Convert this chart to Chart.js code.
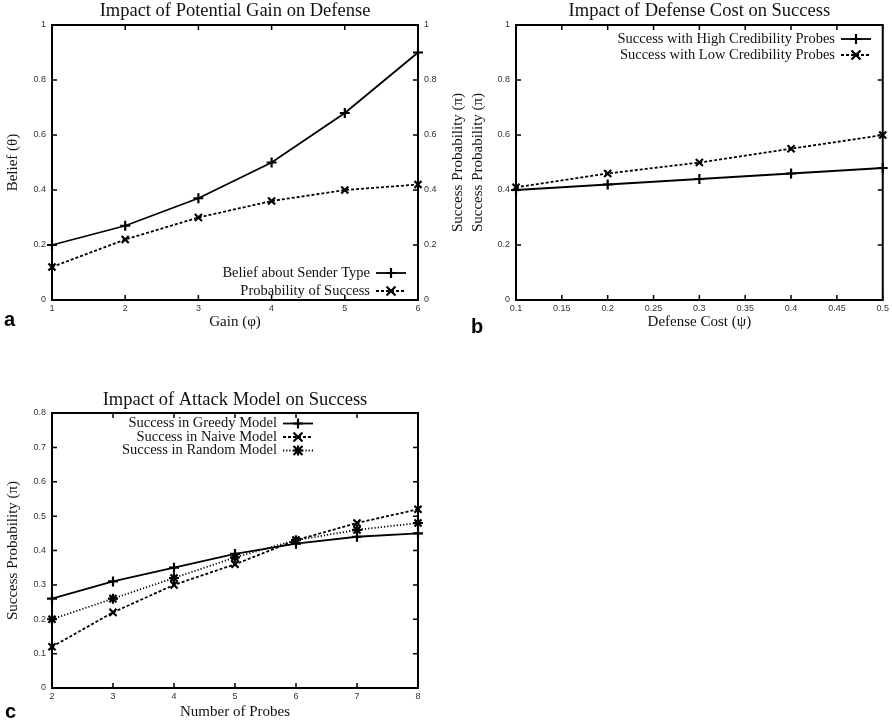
<!DOCTYPE html>
<html>
<head>
<meta charset="utf-8">
<script src="https://cdn.jsdelivr.net/npm/chart.js@4.4.1/dist/chart.umd.min.js"></script>
<style>
  html, body { margin: 0; padding: 0; background: #fff; }
  body { width: 892px; height: 723px; position: relative; overflow: hidden; }
  canvas { position: absolute; }
  .panel { position: absolute; font: bold 20px 'Liberation Sans', Arial, sans-serif; line-height: 20px; color: #000; }
</style>
</head>
<body>
<canvas id="chartA" width="470" height="335" style="left:0;top:0;width:470px;height:335px"></canvas>
<canvas id="chartB" width="452" height="335" style="left:440px;top:0;width:452px;height:335px"></canvas>
<canvas id="chartC" width="430" height="343" style="left:0;top:380px;width:430px;height:343px"></canvas>
<div class="panel" style="left:4px;top:309px">a</div>
<div class="panel" style="left:471px;top:316px">b</div>
<div class="panel" style="left:5px;top:701px">c</div>
<script>
// Panel a: potential gain vs defense
const gainX = [1, 2, 3, 4, 5, 6];
const beliefSender = [0.20, 0.27, 0.37, 0.50, 0.68, 0.90];
const probSuccess = [0.12, 0.22, 0.30, 0.36, 0.40, 0.42];

// Panel b: defense cost vs success
const costX = [0.1, 0.2, 0.3, 0.4, 0.5];
const highCred = [0.40, 0.42, 0.44, 0.46, 0.48];
const lowCred = [0.41, 0.46, 0.50, 0.55, 0.60];

// Panel c: attack model vs success
const probesX = [2, 3, 4, 5, 6, 7, 8];
const greedy = [0.26, 0.31, 0.35, 0.39, 0.42, 0.44, 0.45];
const naive = [0.12, 0.22, 0.30, 0.36, 0.43, 0.48, 0.52];
const randomModel = [0.20, 0.26, 0.32, 0.38, 0.43, 0.46, 0.48];

// Tick labels
const unitTicks = [0, 0.2, 0.4, 0.6, 0.8, 1];
const costTicks = [0.1, 0.15, 0.2, 0.25, 0.3, 0.35, 0.4, 0.45, 0.5];
const probeYTicks = [0, 0.1, 0.2, 0.3, 0.4, 0.5, 0.6, 0.7, 0.8];

const SERIF = "'Liberation Serif', 'Times New Roman', serif";
const SANS = "'Liberation Sans', Arial, sans-serif";

const pts = (xs, ys) => xs.map((x, i) => ({ x, y: ys[i] }));
const fmt = v => String(+Number(v).toFixed(2));
const fixTicks = arr => s => { s.ticks = arr.map(v => ({ value: v })); };

function drawMarker(ctx, style, x, y, r) {
  ctx.beginPath();
  if (style === 'cross' || style === 'star') {
    ctx.moveTo(x - r, y); ctx.lineTo(x + r, y);
    ctx.moveTo(x, y - r); ctx.lineTo(x, y + r);
  }
  if (style === 'crossRot' || style === 'star') {
    const d = r * 0.9;
    ctx.moveTo(x - d, y - d); ctx.lineTo(x + d, y + d);
    ctx.moveTo(x - d, y + d); ctx.lineTo(x + d, y - d);
  }
  ctx.stroke();
}

// gnuplot style box: inward ticks on all sides, key with samples, extra y2 label
const gnuplotFrame = {
  id: 'gnuplotFrame',
  afterDatasetsDraw(chart, args, opts) {
    const { ctx, chartArea: a, scales } = chart;
    const tl = 5;
    ctx.save();
    ctx.strokeStyle = '#000';
    ctx.lineWidth = 1.5;
    ctx.beginPath();
    scales.x.ticks.forEach(t => {
      const px = scales.x.getPixelForValue(t.value);
      ctx.moveTo(px, a.bottom); ctx.lineTo(px, a.bottom - tl);
      ctx.moveTo(px, a.top); ctx.lineTo(px, a.top + tl);
    });
    scales.y.ticks.forEach(t => {
      const py = scales.y.getPixelForValue(t.value);
      ctx.moveTo(a.left, py); ctx.lineTo(a.left + tl, py);
      ctx.moveTo(a.right, py); ctx.lineTo(a.right - tl, py);
    });
    ctx.stroke();
    ctx.lineWidth = 2;
    ctx.strokeRect(a.left, a.top, a.right - a.left, a.bottom - a.top);

    // key
    const key = opts.key;
    if (key) {
      ctx.font = '14.5px ' + SERIF;
      ctx.fillStyle = '#111';
      ctx.textAlign = 'right';
      ctx.textBaseline = 'middle';
      chart.data.datasets.forEach((ds, i) => {
        const y = key.y + i * key.rowH;
        ctx.fillText(ds.label, key.x, y);
        ctx.setLineDash(ds.borderDash || []);
        ctx.lineWidth = ds.borderWidth;
        ctx.beginPath();
        ctx.moveTo(key.x + 6, y); ctx.lineTo(key.x + 36, y);
        ctx.stroke();
        ctx.setLineDash([]);
        ctx.lineWidth = ds.pointBorderWidth;
        drawMarker(ctx, ds.pointStyle, key.x + 21, y, ds.pointRadius);
      });
    }

    if (opts.y2Title) {
      ctx.font = '15px ' + SERIF;
      ctx.fillStyle = '#111';
      ctx.textAlign = 'center';
      ctx.textBaseline = 'middle';
      ctx.translate(a.right + 40, (a.top + a.bottom) / 2);
      ctx.rotate(-Math.PI / 2);
      ctx.fillText(opts.y2Title, 0, 0);
    }
    ctx.restore();
  },
};

function line(label, xs, ys, dash, style, extra) {
  return Object.assign({
    label,
    data: pts(xs, ys),
    borderColor: '#000',
    backgroundColor: 'transparent',
    borderWidth: 1.8,
    borderDash: dash,
    pointStyle: style,
    pointRadius: 5,
    pointBorderWidth: 2.2,
    pointBorderColor: '#000',
    pointBackgroundColor: 'transparent',
    tension: 0,
    clip: false,
  }, extra || {});
}

function tickFont() { return { family: SANS, size: 9 }; }

function xAxis(min, max, ticksArr, title, pb) {
  return {
    type: 'linear', position: 'bottom', min, max,
    afterBuildTicks: fixTicks(ticksArr),
    afterFit: s => { s.height = 35; },
    grid: { display: false, drawTicks: false },
    border: { display: false },
    ticks: { font: tickFont(), color: '#333', padding: 3, callback: fmt, maxRotation: 0, autoSkip: false },
    title: { display: true, text: title, font: { family: SERIF, size: 15 }, color: '#111', padding: { top: 0, bottom: pb } },
  };
}

function yAxis(min, max, ticksArr, title, width, pt) {
  return {
    type: 'linear', position: 'left', min, max,
    afterBuildTicks: fixTicks(ticksArr),
    afterFit: s => { s.width = width; },
    grid: { display: false, drawTicks: false },
    border: { display: false },
    ticks: { font: tickFont(), color: '#333', padding: 6, callback: fmt, autoSkip: false },
    title: { display: true, text: title, font: { family: SERIF, size: 15 }, color: '#111', padding: { top: pt, bottom: 0 } },
  };
}

function baseOptions(title, titlePad, scales, frameOpts, padding) {
  return {
    responsive: false,
    animation: false,
    layout: { padding },
    scales,
    plugins: {
      legend: { display: false },
      tooltip: { enabled: false },
      title: {
        display: true, text: title, fullSize: false, color: '#111',
        font: { family: SERIF, size: 18.5, weight: 'normal', lineHeight: 1.2 },
        padding: titlePad,
      },
      gnuplotFrame: frameOpts,
    },
  };
}

// Panel a
new Chart(document.getElementById('chartA'), {
  type: 'line',
  data: {
    datasets: [
      line('Belief about Sender Type', gainX, beliefSender, [], 'cross'),
      line('Probability of Success', gainX, probSuccess, [3, 2], 'crossRot', { yAxisID: 'y2' }),
    ],
  },
  options: baseOptions('Impact of Potential Gain on Defense', { top: 0.5, bottom: 2.3 }, {
    x: xAxis(1, 6, gainX, 'Gain (φ)', 4),
    y: yAxis(0, 1, unitTicks, 'Belief (θ)', 52, 4),
    y2: {
      type: 'linear', position: 'right', min: 0, max: 1,
      afterBuildTicks: fixTicks(unitTicks),
      afterFit: s => { s.width = 52; },
      grid: { display: false, drawTicks: false },
      border: { display: false },
      ticks: { font: tickFont(), color: '#333', padding: 6, callback: fmt, autoSkip: false },
    },
  }, { key: { x: 370, y: 273, rowH: 18 }, y2Title: 'Success Probability (π)' },
  { left: 0, right: 0, top: 0, bottom: 0 }),
  plugins: [gnuplotFrame],
});

// Panel b
new Chart(document.getElementById('chartB'), {
  type: 'line',
  data: {
    datasets: [
      line('Success with High Credibility Probes', costX, highCred, [], 'cross'),
      line('Success with Low Credibility Probes', costX, lowCred, [3, 2], 'crossRot'),
    ],
  },
  options: baseOptions('Impact of Defense Cost on Success', { top: 0.5, bottom: 2.3 }, {
    x: xAxis(0.1, 0.5, costTicks, 'Defense Cost (ψ)', 4),
    y: yAxis(0, 1, unitTicks, 'Success Probability (π)', 76, 29),
  }, { key: { x: 395, y: 39, rowH: 16 } },
  { left: 0, right: 9, top: 0, bottom: 0 }),
  plugins: [gnuplotFrame],
});

// Panel c
new Chart(document.getElementById('chartC'), {
  type: 'line',
  data: {
    datasets: [
      line('Success in Greedy Model', probesX, greedy, [], 'cross'),
      line('Success in Naive Model', probesX, naive, [3, 2], 'crossRot'),
      line('Success in Random Model', probesX, randomModel, [1.2, 2], 'star'),
    ],
  },
  options: baseOptions('Impact of Attack Model on Success', { top: 8.9, bottom: 1.9 }, {
    x: xAxis(2, 8, probesX, 'Number of Probes', 2),
    y: yAxis(0, 0.8, probeYTicks, 'Success Probability (π)', 52, 4),
  }, { key: { x: 277, y: 43.5, rowH: 13.5 } },
  { left: 0, right: 12, top: 0, bottom: 0 }),
  plugins: [gnuplotFrame],
});
</script>
</body>
</html>
